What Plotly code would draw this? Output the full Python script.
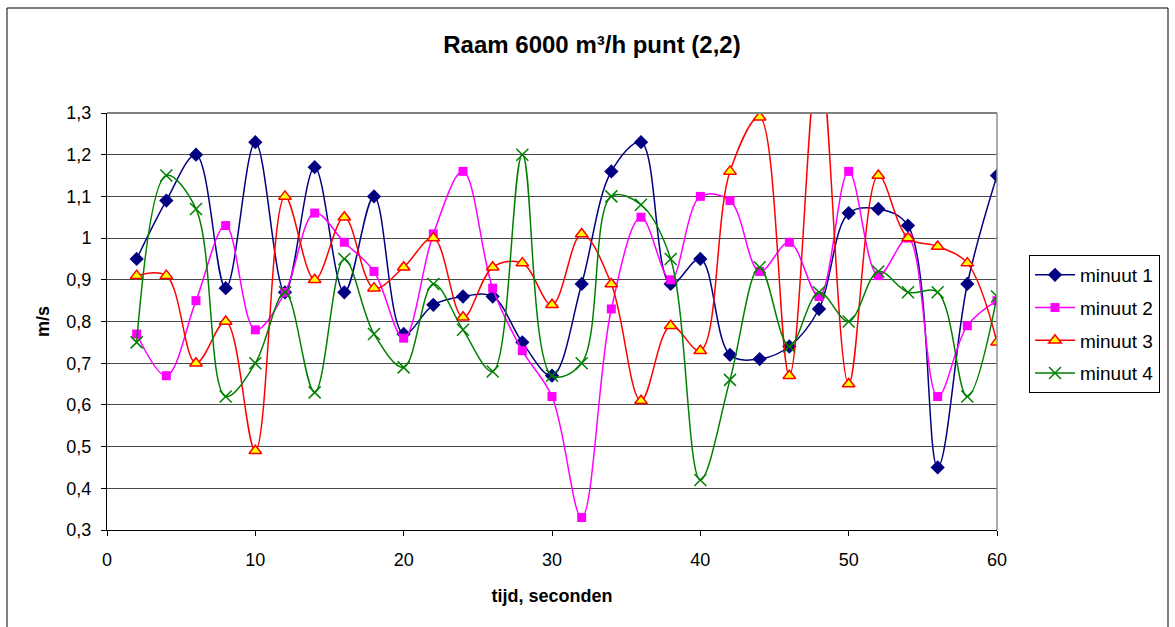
import plotly.graph_objects as go

# Meetmomenten (seconden)
tijd = [2, 4, 6, 8, 10, 12, 14, 16, 18, 20, 22, 24, 26, 28, 30,
        32, 34, 36, 38, 40, 42, 44, 46, 48, 50, 52, 54, 56, 58, 60]

minuut_1 = [0.95, 1.09, 1.20, 0.88, 1.23, 0.87, 1.17, 0.87, 1.10, 0.77,
            0.84, 0.86, 0.86, 0.75, 0.67, 0.89, 1.16, 1.23, 0.89, 0.95,
            0.72, 0.71, 0.74, 0.83, 1.06, 1.07, 1.03, 0.45, 0.89, 1.15]
minuut_2 = [0.77, 0.67, 0.85, 1.03, 0.78, 0.87, 1.06, 0.99, 0.92, 0.76,
            1.01, 1.16, 0.88, 0.73, 0.62, 0.33, 0.83, 1.05, 0.90, 1.10,
            1.09, 0.92, 0.99, 0.86, 1.16, 0.91, 1.00, 0.62, 0.79, 0.85]
minuut_3 = [0.91, 0.91, 0.70, 0.80, 0.49, 1.10, 0.90, 1.05, 0.88, 0.93,
            1.00, 0.81, 0.93, 0.94, 0.84, 1.01, 0.89, 0.61, 0.79, 0.73,
            1.16, 1.29, 0.67, 1.45, 0.65, 1.15, 1.00, 0.98, 0.94, 0.75]
minuut_4 = [0.75, 1.15, 1.07, 0.62, 0.70, 0.87, 0.63, 0.95, 0.77, 0.69,
            0.89, 0.78, 0.68, 1.20, 0.67, 0.70, 1.10, 1.08, 0.95, 0.42,
            0.66, 0.93, 0.74, 0.87, 0.80, 0.92, 0.87, 0.87, 0.62, 0.86]

y_ticks = [0.3, 0.4, 0.5, 0.6, 0.7, 0.8, 0.9, 1.0, 1.1, 1.2, 1.3]
y_tick_labels = ["0,3", "0,4", "0,5", "0,6", "0,7", "0,8", "0,9", "1", "1,1", "1,2", "1,3"]
x_ticks = [0, 10, 20, 30, 40, 50, 60]

FONT = "Liberation Sans, Arial, sans-serif"

series = [
    ("minuut 1", minuut_1, "#000080",
     dict(symbol="diamond", size=11, color="#000080", line=dict(width=0))),
    ("minuut 2", minuut_2, "#FF00FF",
     dict(symbol="square", size=9, color="#FF00FF", line=dict(width=0))),
    ("minuut 3", minuut_3, "#FF0000",
     dict(symbol="triangle-up", size=11, color="#FFFF00",
          line=dict(width=1.5, color="#FF0000"))),
    ("minuut 4", minuut_4, "#008000",
     dict(symbol="x-thin", size=12, color="#008000",
          line=dict(width=1.5, color="#008000"))),
]

fig = go.Figure()
for i, (name, vals, col, marker) in enumerate(series):
    fig.add_trace(go.Scatter(
        x=tijd, y=vals, name=name, mode="lines+markers",
        line=dict(color=col, width=1.5, shape="spline", smoothing=1.0),
        marker=marker, legendgroup=f"g{i}", cliponaxis=True,
    ))

W, H = 1175, 627
L, R, T, B = 107, 997, 113, 530
pw, ph = R - L, B - T

fig.update_layout(
    width=W, height=H,
    margin=dict(l=L, r=W - R, t=T, b=H - B),
    paper_bgcolor="white", plot_bgcolor="white",
    font=dict(family=FONT, size=18, color="black"),
    separators=",.",
    title=dict(text="<b>Raam 6000 m³/h punt (2,2)</b>",
               font=dict(family=FONT, size=24, color="black"),
               x=(592 - L) / pw, xref="paper", xanchor="center",
               y=1 - 45 / H, yref="container", yanchor="middle"),
    xaxis=dict(range=[0, 60], tickvals=x_ticks, ticks="outside", ticklen=5,
               tickcolor="black", showline=True, linecolor="black", linewidth=1,
               showgrid=False, zeroline=False, ticklabelstandoff=8,
               tickfont=dict(family=FONT, size=18),
               title=dict(text="<b>tijd, seconden</b>", standoff=20,
                          font=dict(family=FONT, size=18))),
    yaxis=dict(range=[0.3, 1.3], tickvals=y_ticks, ticktext=y_tick_labels,
               ticks="outside", ticklen=5, tickcolor="black",
               showline=True, linecolor="black", linewidth=1,
               showgrid=True, gridcolor="#4a4a4a", gridwidth=1,
               zeroline=False, ticklabelstandoff=6,
               tickfont=dict(family=FONT, size=18),
               title=dict(text="<b>m/s</b>", standoff=12,
                          font=dict(family=FONT, size=18))),
    legend=dict(x=(1029 - L) / pw, xanchor="left",
                y=(B - 255) / ph, yanchor="top",
                bordercolor="black", borderwidth=1, bgcolor="white",
                font=dict(family=FONT, size=19), tracegroupgap=5,
                itemwidth=40),
    showlegend=True,
)

# plot-area border on top and right
fig.add_shape(type="line", xref="paper", yref="paper", x0=0, x1=1, y0=1, y1=1,
              line=dict(color="#808080", width=2))
fig.add_shape(type="line", xref="paper", yref="paper", x0=1, x1=1, y0=0, y1=1,
              line=dict(color="#909090", width=1.5))
# chart-area frame (bottom edge runs past the page)
fig.add_shape(type="rect", xref="paper", yref="paper",
              x0=(7 - L) / pw, x1=(1168 - L) / pw,
              y0=(B - 640) / ph, y1=(B - 8) / ph,
              line=dict(color="black", width=1), layer="below")

fig.write_html("out.html")
